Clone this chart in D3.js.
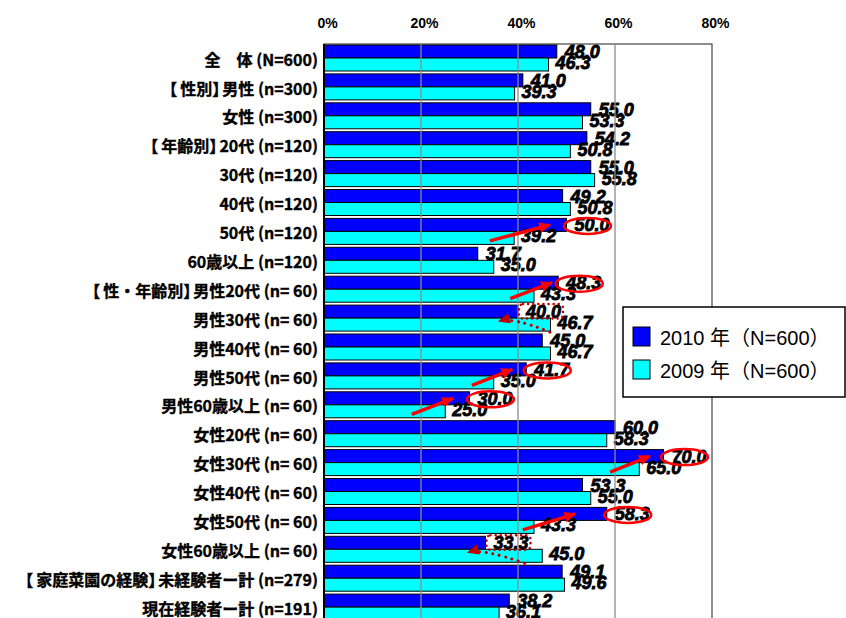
<!DOCTYPE html>
<html>
<head>
<meta charset="utf-8">
<script src="https://cdn.jsdelivr.net/npm/d3@7"></script>
<style>
  html, body { margin: 0; padding: 0; background: #fff; }
  svg { display: block; }
  text { white-space: pre; }
</style>
</head>
<body>
<svg id="chart" width="846" height="618"></svg>
<script>
// Categories (top to bottom)
const categories = [
  "全　体 (N=600)",
  "【性別】男性 (n=300)",
  "女性 (n=300)",
  "【年齢別】20代 (n=120)",
  "30代 (n=120)",
  "40代 (n=120)",
  "50代 (n=120)",
  "60歳以上 (n=120)",
  "【性・年齢別】男性20代 (n= 60)",
  "男性30代 (n= 60)",
  "男性40代 (n= 60)",
  "男性50代 (n= 60)",
  "男性60歳以上 (n= 60)",
  "女性20代 (n= 60)",
  "女性30代 (n= 60)",
  "女性40代 (n= 60)",
  "女性50代 (n= 60)",
  "女性60歳以上 (n= 60)",
  "【家庭菜園の経験】未経験者ー計 (n=279)",
  "現在経験者ー計 (n=191)"
];

// Percentages per survey year
const values2010 = [48.0, 41.0, 55.0, 54.2, 55.0, 49.2, 50.0, 31.7, 48.3, 40.0,
                    45.0, 41.7, 30.0, 60.0, 70.0, 53.3, 58.3, 33.3, 49.1, 38.2];
const values2009 = [46.3, 39.3, 53.3, 50.8, 55.8, 50.8, 39.2, 35.0, 43.3, 46.7,
                    46.7, 35.0, 25.0, 58.3, 65.0, 55.0, 43.3, 45.0, 49.6, 36.1];

const seriesNames = ["2010 年（N=600）", "2009 年（N=600）"];
const seriesKeys = ["y2010", "y2009"];
const axisTicks = [0, 20, 40, 60, 80];

// Highlighted rises: row index, arrow tail / head in percent units
const riseRows = [6, 8, 11, 12, 14, 16];
const riseFrom = [34.2, 38.4, 30.5, 18.1, 59.0, 41.0];
const riseTo   = [46.6, 47.0, 38.8, 26.6, 67.2, 51.8];

// Highlighted drops: row index, dotted arrow tail / head in percent units
const dropRows = [9, 17];
const dropFrom = [46.6, 41.4];
const dropTo   = [36.1, 29.7];

const rows = categories.map((c, i) => ({ cat: c, y2010: values2010[i], y2009: values2009[i] }));

const svg = d3.select("#chart");
const colors = { y2010: "#0000ff", y2009: "#00ffff" };

const x = d3.scaleLinear().domain([0, 80]).range([324, 712]);
const y = d3.scaleBand().domain(categories).range([44, 622]);
const yInner = d3.scaleBand().domain(seriesKeys).range([1, 27]);

const plot = svg.append("g");

// plot frame
plot.append("rect")
  .attr("x", x(0)).attr("y", 44)
  .attr("width", x(80) - x(0)).attr("height", 578)
  .attr("fill", "#fff").attr("stroke", "#444").attr("stroke-width", 1.2);

// bars
const groups = plot.selectAll("g.row").data(rows).join("g")
  .attr("class", "row")
  .attr("transform", d => `translate(0,${y(d.cat)})`);

groups.selectAll("rect").data(d => seriesKeys.map(k => ({ key: k, value: d[k] })))
  .join("rect")
  .attr("x", x(0))
  .attr("y", d => yInner(d.key))
  .attr("width", d => x(d.value) - x(0))
  .attr("height", yInner.bandwidth())
  .attr("fill", d => colors[d.key])
  .attr("stroke", "#000").attr("stroke-width", 1);

// vertical gridlines
plot.selectAll("line.grid").data(axisTicks.filter(t => t > 0 && t < 80)).join("line")
  .attr("class", "grid")
  .attr("x1", d => x(d)).attr("x2", d => x(d))
  .attr("y1", 44).attr("y2", 622)
  .attr("stroke", "#8c8c8c").attr("stroke-width", 1.3);

// category axis line
plot.append("line")
  .attr("x1", x(0)).attr("x2", x(0)).attr("y1", 44).attr("y2", 622)
  .attr("stroke", "#000").attr("stroke-width", 2);

// top percent axis
const topAxis = svg.append("g")
  .attr("transform", "translate(0,28)")
  .call(d3.axisTop(x).tickValues(axisTicks).tickFormat(d => d + "%").tickSize(0).tickPadding(0));
topAxis.select(".domain").remove();
topAxis.selectAll("text")
  .attr("dx", 3)
  .attr("font-family", "'Liberation Sans', Arial, sans-serif")
  .attr("font-weight", "bold")
  .attr("font-size", 14)
  .attr("fill", "#000");

// category labels
const leftAxis = svg.append("g")
  .attr("transform", `translate(${x(0)},0)`)
  .call(d3.axisLeft(y).tickSize(0).tickPadding(6));
leftAxis.select(".domain").remove();
leftAxis.selectAll("text")
  .attr("dy", "0.45em")
  .attr("font-family", "'Noto Sans CJK JP', sans-serif")
  .attr("font-weight", "bold")
  .attr("font-size", 16)
  .attr("fill", "#000")
  .attr("stroke", "#000").attr("stroke-width", 0.35)
  .each(function (d) {
    // centre the bracketed group names inside their brackets
    const m = /^【(.+?)】(.*)$/.exec(d);
    if (!m) return;
    const t = d3.select(this).text(null);
    t.append("tspan").text("【");
    t.append("tspan").attr("dx", 3).text(m[1]);
    t.append("tspan").text("】");
    t.append("tspan").attr("dx", -6).text(m[2]);
  });

// value labels
const labelFont = "'Liberation Sans', Arial, sans-serif";
groups.append("text")
  .attr("x", d => x(d.y2010) + 8).attr("y", 14)
  .text(d => d.y2010.toFixed(1));
groups.append("text")
  .attr("x", d => x(d.y2009) + 7).attr("y", 25)
  .text(d => d.y2009.toFixed(1));
groups.selectAll("text")
  .attr("font-family", labelFont)
  .attr("font-weight", "bold")
  .attr("font-style", "italic")
  .attr("font-size", 18)
  .attr("fill", "#000")
  .attr("stroke", "#000").attr("stroke-width", 0.8);

// arrow heads
const defs = svg.append("defs");
defs.append("marker")
  .attr("id", "head-red")
  .attr("viewBox", "0 0 10 10").attr("refX", 9).attr("refY", 5)
  .attr("markerUnits", "userSpaceOnUse")
  .attr("markerWidth", 12).attr("markerHeight", 12)
  .attr("orient", "auto")
  .append("path").attr("d", "M0,0.5 L10,5 L0,9.5 Z").attr("fill", "#ff0000");
defs.append("marker")
  .attr("id", "head-dark")
  .attr("viewBox", "0 0 10 10").attr("refX", 9).attr("refY", 5)
  .attr("markerUnits", "userSpaceOnUse")
  .attr("markerWidth", 12).attr("markerHeight", 12)
  .attr("orient", "auto")
  .append("path").attr("d", "M0,0.5 L10,5 L0,9.5 Z").attr("fill", "#c00000");

const notes = svg.append("g");

// rises: circled 2010 value and a red arrow from the 2009 bar
riseRows.forEach((r, i) => {
  const top = y(categories[r]);
  notes.append("ellipse")
    .attr("cx", x(values2010[r]) + 21).attr("cy", top + 8.5)
    .attr("rx", 23.5).attr("ry", 8)
    .attr("fill", "none").attr("stroke", "#ff0000").attr("stroke-width", 2.5);
  notes.append("line")
    .attr("x1", x(riseFrom[i])).attr("y1", top + 23.5)
    .attr("x2", x(riseTo[i])).attr("y2", top + 7.5)
    .attr("stroke", "#ff0000").attr("stroke-width", 3.5)
    .attr("marker-end", "url(#head-red)");
});

// drops: dotted box around 2010 value and a dotted arrow
dropRows.forEach((r, i) => {
  const top = y(categories[r]);
  notes.append("rect")
    .attr("x", x(values2010[r]) + 1).attr("y", top)
    .attr("width", 44).attr("height", 14.5)
    .attr("rx", 4)
    .attr("fill", "none").attr("stroke", "#c00000").attr("stroke-width", 2.5)
    .attr("stroke-linecap", "round").attr("stroke-dasharray", "0.1,5");
  const sx = x(dropFrom[i]), sy = top + 28;
  const tx = x(dropTo[i]), ty = top + 17;
  notes.append("path")
    .attr("d", `M${sx},${sy} Q${tx + 14},${top + 13} ${tx},${ty}`)
    .attr("fill", "none").attr("stroke", "#c00000").attr("stroke-width", 3)
    .attr("stroke-linecap", "round").attr("stroke-dasharray", "0.1,6.5")
    .attr("marker-end", "url(#head-dark)");
});

// legend
const legend = svg.append("g");
legend.append("rect")
  .attr("x", 623).attr("y", 307).attr("width", 222).attr("height", 90)
  .attr("fill", "#fff").attr("stroke", "#000").attr("stroke-width", 1.5);
const items = legend.selectAll("g.item").data(seriesKeys).join("g")
  .attr("class", "item")
  .attr("transform", (d, i) => `translate(633,${327 + i * 33})`);
items.append("rect")
  .attr("width", 17).attr("height", 19)
  .attr("fill", d => colors[d]).attr("stroke", "#000").attr("stroke-width", 1);
items.append("text")
  .attr("x", 27).attr("y", 18)
  .attr("font-family", "'Liberation Sans', 'Noto Sans CJK JP', sans-serif")
  .attr("font-size", 20)
  .attr("fill", "#000")
  .text((d, i) => seriesNames[i]);
</script>
</body>
</html>
